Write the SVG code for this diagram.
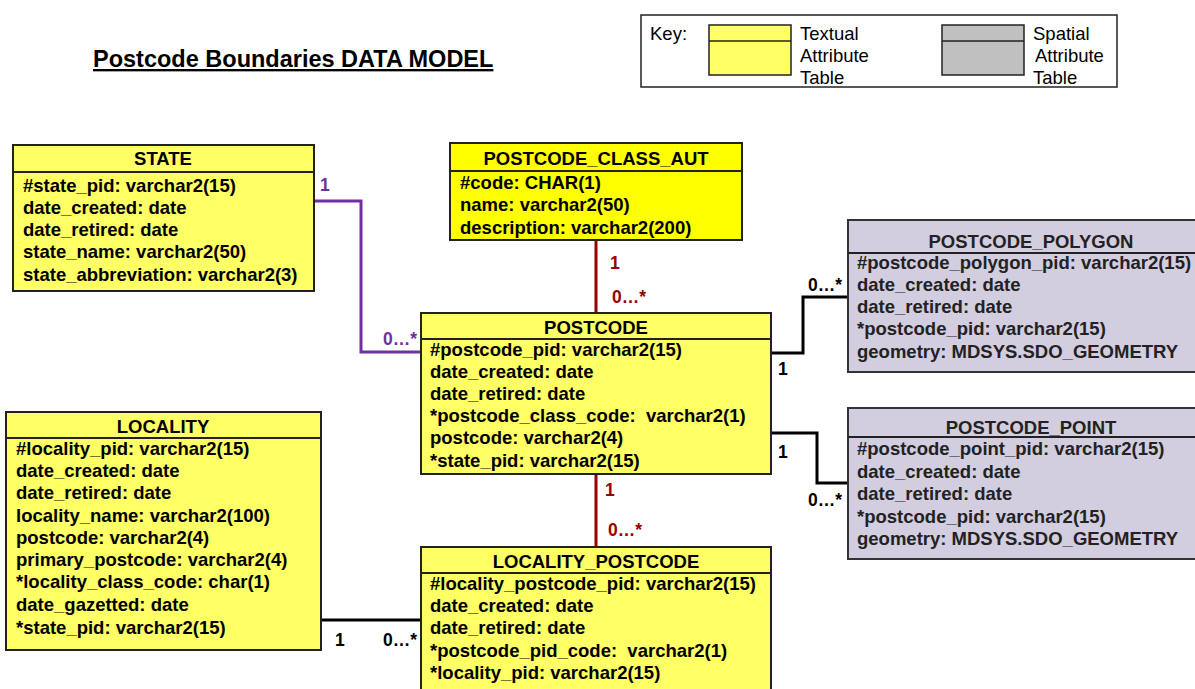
<svg xmlns="http://www.w3.org/2000/svg" width="1195" height="689" viewBox="0 0 1195 689">
<style>
text{font-family:"Liberation Sans",Arial,sans-serif}
.t{font-size:18.5px;font-weight:bold;fill:#000}
.h{font-size:18.5px;font-weight:bold;fill:#000;text-anchor:middle}
.s{font-size:18.5px;font-weight:bold;fill:#222}
.k{font-size:18.5px;fill:#000}
.y{fill:#FFFF66;stroke:#222;stroke-width:2}
.yy{fill:#FFFF00;stroke:#222;stroke-width:2}
.p{fill:#D3CDE0;stroke:#333;stroke-width:2}
.sep{stroke:#222;stroke-width:2}
.cb{fill:none;stroke:#000;stroke-width:3}
.cr{fill:none;stroke:#990000;stroke-width:3}
.cp{fill:none;stroke:#7030A0;stroke-width:3}
.lb{font-size:17.5px;font-weight:bold;fill:#000}
.lr{font-size:17.5px;font-weight:bold;fill:#990000}
.lp{font-size:17.5px;font-weight:bold;fill:#7030A0}
</style>
<rect width="1195" height="689" fill="#fff"/>
<text x="93" y="67" style="font-size:23.5px;font-weight:bold;text-decoration:underline">Postcode Boundaries DATA MODEL</text>

<g id="key">
<rect x="641" y="15" width="476" height="72" fill="#fff" stroke="#222" stroke-width="1.5"/>
<text class="k" x="650" y="40">Key:</text>
<rect x="709" y="25" width="82" height="50" fill="#FFFF66" stroke="#222" stroke-width="1.5"/>
<line x1="709" y1="41" x2="791" y2="41" stroke="#222" stroke-width="1.5"/>
<text class="k" x="800" y="40">Textual</text>
<text class="k" x="800" y="62">Attribute</text>
<text class="k" x="800" y="84">Table</text>
<rect x="942" y="25" width="82" height="50" fill="#C0C0C0" stroke="#222" stroke-width="1.5"/>
<line x1="942" y1="41" x2="1024" y2="41" stroke="#222" stroke-width="1.5"/>
<text class="k" x="1033" y="40">Spatial</text>
<text class="k" x="1035" y="62">Attribute</text>
<text class="k" x="1033" y="84">Table</text>
</g>

<g id="connectors">
<polyline class="cp" points="314,201 361,201 361,352 421,352"/>
<line class="cr" x1="596" y1="240" x2="596" y2="313"/>
<line class="cr" x1="596" y1="474" x2="596" y2="547"/>
<polyline class="cb" points="771,353 803,353 803,297 848,297"/>
<polyline class="cb" points="771,433 817,433 817,483 848,483"/>
<line class="cb" x1="321" y1="620" x2="421" y2="620"/>
<text class="lp" x="320" y="191">1</text>
<text class="lp" x="383" y="345">0…*</text>
<text class="lr" x="610" y="269">1</text>
<text class="lr" x="612" y="303">0…*</text>
<text class="lr" x="605" y="496">1</text>
<text class="lr" x="608" y="536">0…*</text>
<text class="lb" x="778" y="375">1</text>
<text class="lb" x="808" y="291">0…*</text>
<text class="lb" x="778" y="458">1</text>
<text class="lb" x="808" y="506">0…*</text>
<text class="lb" x="335" y="646">1</text>
<text class="lb" x="383" y="646">0…*</text>
</g>

<g id="STATE">
<rect class="y" x="13" y="145" width="301" height="146"/>
<line class="sep" x1="13" y1="172" x2="314" y2="172"/>
<text class="h" x="163" y="165">STATE</text>
<text class="t" x="23" y="192">#state_pid: varchar2(15)</text>
<text class="t" x="23" y="214">date_created: date</text>
<text class="t" x="23" y="236">date_retired: date</text>
<text class="t" x="23" y="258">state_name: varchar2(50)</text>
<text class="t" x="23" y="281">state_abbreviation: varchar2(3)</text>
</g>

<g id="POSTCODE_CLASS_AUT">
<rect class="yy" x="450" y="143" width="292" height="97"/>
<line class="sep" x1="450" y1="171" x2="742" y2="171"/>
<text class="h" x="596" y="165">POSTCODE_CLASS_AUT</text>
<text class="t" x="460" y="189">#code: CHAR(1)</text>
<text class="t" x="460" y="211">name: varchar2(50)</text>
<text class="t" x="460" y="234">description: varchar2(200)</text>
</g>

<g id="POSTCODE">
<rect class="y" x="421" y="313" width="350" height="161"/>
<line class="sep" x1="421" y1="339" x2="771" y2="339"/>
<text class="h" x="596" y="334">POSTCODE</text>
<text class="t" x="430" y="356">#postcode_pid: varchar2(15)</text>
<text class="t" x="430" y="378">date_created: date</text>
<text class="t" x="430" y="400">date_retired: date</text>
<text class="t" x="430" y="422" xml:space="preserve">*postcode_class_code:  varchar2(1)</text>
<text class="t" x="430" y="444">postcode: varchar2(4)</text>
<text class="t" x="430" y="467">*state_pid: varchar2(15)</text>
</g>

<g id="POSTCODE_POLYGON">
<rect class="p" x="848" y="220" width="360" height="152"/>
<line class="sep" x1="848" y1="253" x2="1208" y2="253"/>
<text class="h" x="1031" y="248" style="fill:#222">POSTCODE_POLYGON</text>
<text class="s" x="857" y="269">#postcode_polygon_pid: varchar2(15)</text>
<text class="s" x="857" y="291">date_created: date</text>
<text class="s" x="857" y="313">date_retired: date</text>
<text class="s" x="857" y="335">*postcode_pid: varchar2(15)</text>
<text class="s" x="857" y="358">geometry: MDSYS.SDO_GEOMETRY</text>
</g>

<g id="POSTCODE_POINT">
<rect class="p" x="848" y="408" width="360" height="151"/>
<line class="sep" x1="848" y1="437" x2="1208" y2="437"/>
<text class="h" x="1031" y="434" style="fill:#222">POSTCODE_POINT</text>
<text class="s" x="857" y="455">#postcode_point_pid: varchar2(15)</text>
<text class="s" x="857" y="478">date_created: date</text>
<text class="s" x="857" y="500">date_retired: date</text>
<text class="s" x="857" y="523">*postcode_pid: varchar2(15)</text>
<text class="s" x="857" y="545">geometry: MDSYS.SDO_GEOMETRY</text>
</g>

<g id="LOCALITY">
<rect class="y" x="6" y="412" width="315" height="238"/>
<line class="sep" x1="6" y1="438" x2="321" y2="438"/>
<text class="h" x="163" y="433">LOCALITY</text>
<text class="t" x="16" y="455">#locality_pid: varchar2(15)</text>
<text class="t" x="16" y="477">date_created: date</text>
<text class="t" x="16" y="499">date_retired: date</text>
<text class="t" x="16" y="522">locality_name: varchar2(100)</text>
<text class="t" x="16" y="544">postcode: varchar2(4)</text>
<text class="t" x="16" y="566">primary_postcode: varchar2(4)</text>
<text class="t" x="16" y="588">*locality_class_code: char(1)</text>
<text class="t" x="16" y="611">date_gazetted: date</text>
<text class="t" x="16" y="634">*state_pid: varchar2(15)</text>
</g>

<g id="LOCALITY_POSTCODE">
<rect class="y" x="421" y="547" width="350" height="150"/>
<line class="sep" x1="421" y1="573" x2="771" y2="573"/>
<text class="h" x="596" y="568">LOCALITY_POSTCODE</text>
<text class="t" x="430" y="590">#locality_postcode_pid: varchar2(15)</text>
<text class="t" x="430" y="612">date_created: date</text>
<text class="t" x="430" y="634">date_retired: date</text>
<text class="t" x="430" y="657" xml:space="preserve">*postcode_pid_code:  varchar2(1)</text>
<text class="t" x="430" y="679">*locality_pid: varchar2(15)</text>
</g>
</svg>
